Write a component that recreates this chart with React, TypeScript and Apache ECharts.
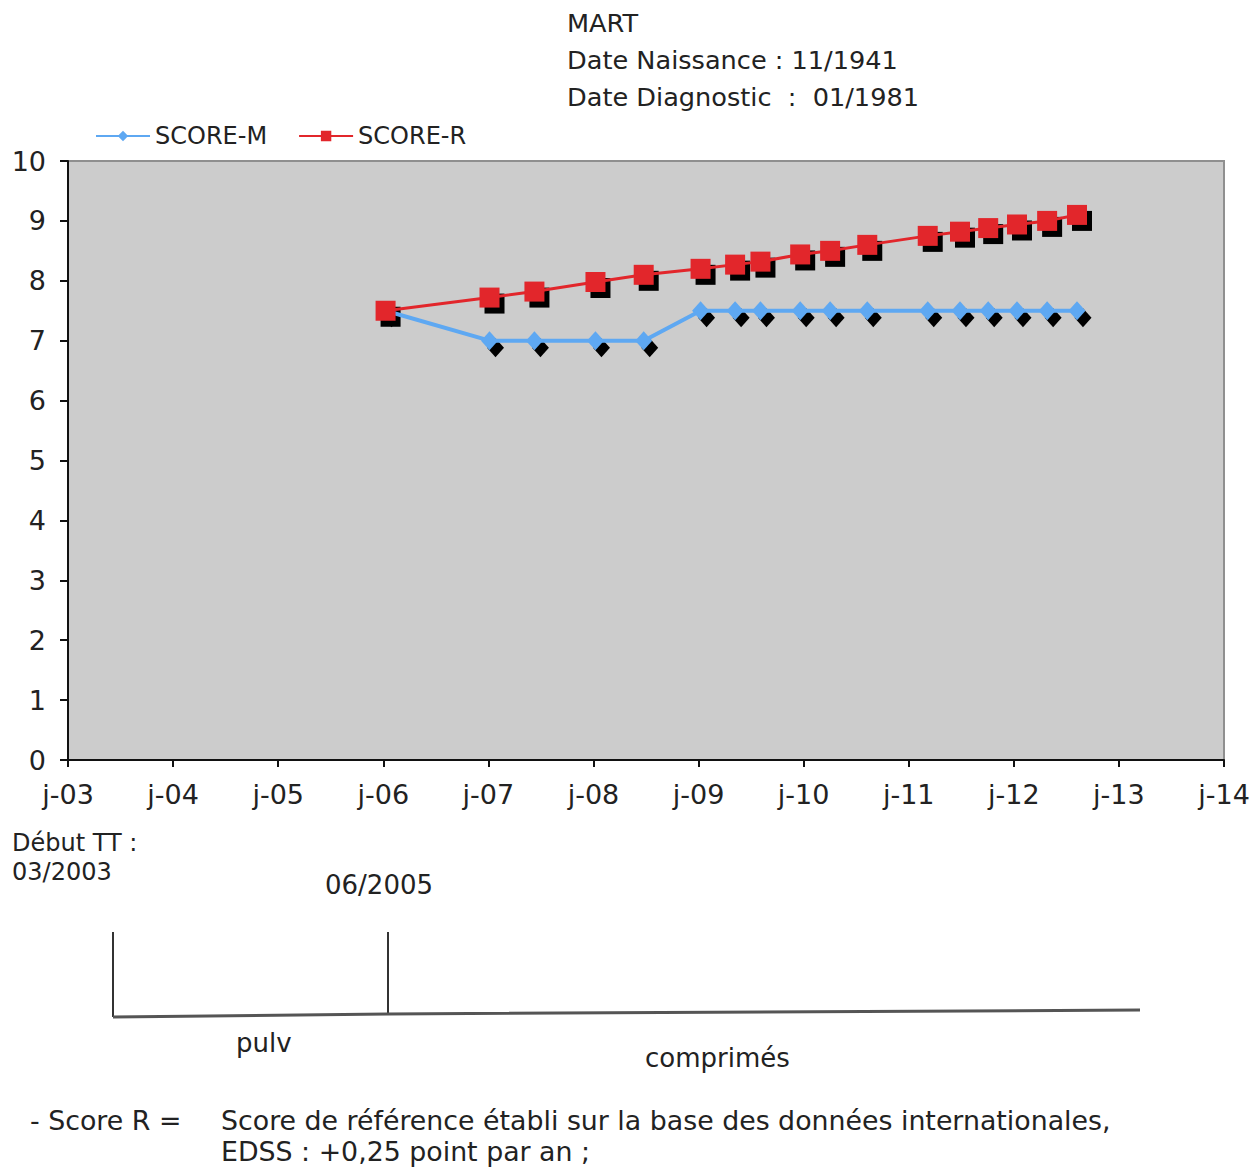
import React, { useEffect, useRef } from "react";
import * as echarts from "echarts";

// Visit dates (YYYY-MM-DD) and the two scores recorded at each visit
const visitDates = [
  "2006-01-09", "2007-01-05", "2007-06-10", "2008-01-08", "2008-06-24",
  "2009-01-08", "2009-05-08", "2009-08-04", "2009-12-20", "2010-04-03",
  "2010-08-10", "2011-03-08", "2011-06-28", "2011-10-04", "2012-01-12",
  "2012-04-26", "2012-08-08",
];
const scoreM = [7.5, 7, 7, 7, 7, 7.5, 7.5, 7.5, 7.5, 7.5, 7.5, 7.5, 7.5, 7.5, 7.5, 7.5, 7.5];
const scoreR = [7.5, 7.72, 7.82, 7.98, 8.1, 8.2, 8.27, 8.32, 8.44, 8.5, 8.6, 8.75, 8.82, 8.88, 8.94, 9.0, 9.1];

const xTickLabels = ["j-03", "j-04", "j-05", "j-06", "j-07", "j-08", "j-09", "j-10", "j-11", "j-12", "j-13", "j-14"];
const yTickLabels = ["0", "1", "2", "3", "4", "5", "6", "7", "8", "9", "10"];
const firstYear = 2003;

const headerLines = ["MART", "Date Naissance : 11/1941", "Date Diagnostic  :  01/1981"];
const footnoteLines = [
  "Score de référence établi sur la base des données internationales,",
  "EDSS : +0,25 point par an ;",
];

const FONT = "DejaVu Sans";
const TEXT_COLOR = "#222";
const BLUE = "#5ea8f2";
const RED = "#e2262b";

function toDecimalYear(d: string): number {
  const [y, m, day] = d.split("-").map(Number);
  const start = Date.UTC(y, 0, 1);
  const end = Date.UTC(y + 1, 0, 1);
  return y + (Date.UTC(y, m - 1, day) - start) / (end - start);
}

function pairs(values: number[]): [number, number][] {
  return visitDates.map((d, i) => [toDecimalYear(d), values[i]]);
}

function label(text: string, x: number, y: number, fontSize = 26, lineHeight?: number) {
  return {
    type: "text",
    x,
    y,
    style: {
      text,
      fontSize,
      fontFamily: FONT,
      fill: TEXT_COLOR,
      textVerticalAlign: "middle",
      lineHeight,
    },
  };
}

export default function App() {
  const ref = useRef<HTMLDivElement>(null);

  useEffect(() => {
    document.body.style.margin = "0";
    if (!ref.current) return;
    const chart = echarts.init(ref.current, undefined, { renderer: "svg" });

    const mData = pairs(scoreM);
    const rData = pairs(scoreR);

    chart.setOption({
      animation: false,
      backgroundColor: "#ffffff",
      textStyle: { fontFamily: FONT },
      grid: {
        left: 68,
        right: 33,
        top: 161,
        bottom: 408,
        show: true,
        backgroundColor: "#cccccc",
        borderColor: "#8f8f8f",
        borderWidth: 2,
      },
      legend: {
        data: ["SCORE-M", "SCORE-R"],
        left: 90,
        top: 119,
        itemWidth: 54,
        itemHeight: 13,
        itemGap: 31,
        textStyle: { fontSize: 24, fontFamily: FONT, color: TEXT_COLOR },
      },
      xAxis: {
        type: "value",
        min: firstYear,
        max: firstYear + xTickLabels.length - 1,
        interval: 1,
        splitLine: { show: false },
        axisLine: { show: true, lineStyle: { color: "#111", width: 2 } },
        axisTick: { show: true, length: 7, lineStyle: { color: "#111", width: 2 } },
        axisLabel: {
          fontSize: 27,
          fontFamily: FONT,
          color: TEXT_COLOR,
          margin: 21,
          formatter: (v: number) => xTickLabels[Math.round(v - firstYear)] ?? "",
        },
      },
      yAxis: {
        type: "value",
        min: 0,
        max: yTickLabels.length - 1,
        interval: 1,
        splitLine: { show: false },
        axisLine: { show: true, lineStyle: { color: "#111", width: 2 } },
        axisTick: { show: true, length: 8, lineStyle: { color: "#111", width: 2 } },
        axisLabel: {
          fontSize: 27,
          fontFamily: FONT,
          color: TEXT_COLOR,
          margin: 22,
          formatter: (v: number) => yTickLabels[Math.round(v)] ?? "",
        },
      },
      series: [
        {
          name: "SCORE-M shadow",
          type: "line",
          data: mData,
          symbol: "diamond",
          symbolSize: [17, 19],
          symbolOffset: [6, 7],
          showSymbol: true,
          lineStyle: { opacity: 0, width: 0 },
          itemStyle: { color: "#000" },
          silent: true,
          z: 1,
        },
        {
          name: "SCORE-R shadow",
          type: "line",
          data: rData,
          symbol: "rect",
          symbolSize: 20,
          symbolOffset: [5, 6],
          showSymbol: true,
          lineStyle: { opacity: 0, width: 0 },
          itemStyle: { color: "#000" },
          silent: true,
          z: 1,
        },
        {
          name: "SCORE-M",
          type: "line",
          data: mData,
          symbol: "diamond",
          symbolSize: [17, 19],
          showSymbol: true,
          lineStyle: { color: BLUE, width: 4 },
          itemStyle: { color: BLUE },
          z: 3,
        },
        {
          name: "SCORE-R",
          type: "line",
          data: rData,
          symbol: "rect",
          symbolSize: 20,
          showSymbol: true,
          lineStyle: { color: RED, width: 3 },
          itemStyle: { color: RED },
          z: 4,
        },
      ],
      graphic: [
        label(headerLines[0], 567, 23, 25.6),
        label(headerLines[1], 567, 60, 25.6),
        label(headerLines[2], 567, 97, 25.6),
        label("Début TT :\n03/2003", 12, 857, 24, 29),
        label("06/2005", 325, 885),
        // treatment timeline
        { type: "line", shape: { x1: 113, y1: 932, x2: 113, y2: 1017 }, style: { stroke: "#333", lineWidth: 2 } },
        { type: "line", shape: { x1: 388, y1: 932, x2: 388, y2: 1015 }, style: { stroke: "#333", lineWidth: 2 } },
        {
          type: "polyline",
          shape: { points: [[113, 1017], [388, 1014], [1140, 1010]] },
          style: { stroke: "#555", lineWidth: 3, fill: "none" },
        },
        label("pulv", 236, 1043),
        label("comprimés", 645, 1058),
        label("- Score R =", 30, 1120, 26.8),
        label(footnoteLines[0], 221, 1120, 26.8),
        label(footnoteLines[1], 221, 1151, 26.8),
      ],
    });

    return () => chart.dispose();
  }, []);

  return <div ref={ref} style={{ width: 1257, height: 1168 }} />;
}
